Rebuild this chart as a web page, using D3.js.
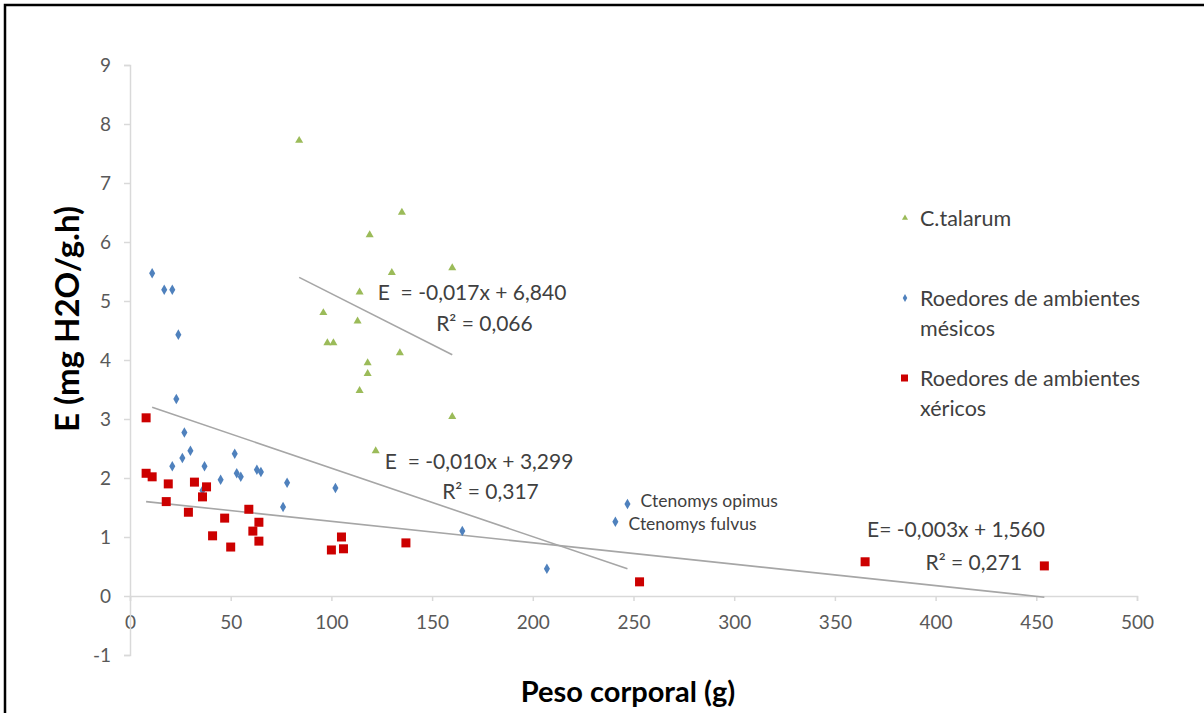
<!DOCTYPE html>
<html><head><meta charset="utf-8">
<script src="https://cdn.jsdelivr.net/npm/d3@7"></script>
<style>body{margin:0;background:#fff}svg{display:block}text{font-family:Lato,"Open Sans",sans-serif;white-space:pre}</style>
</head><body>
<script>
// ---- data ----
const xTicks = [0,50,100,150,200,250,300,350,400,450,500];
const yTicks = [-1,0,1,2,3,4,5,6,7,8,9];
const talarumX = [84,135,119,130,160,114,96,113,98,101,134,118,118,114,160,122];
const talarumY = [7.72,6.5,6.12,5.48,5.56,5.15,4.8,4.66,4.29,4.29,4.12,3.95,3.77,3.48,3.04,2.46];
const mesicosX = [11,17,21,24,23,27,30,26,21,37,52,45,53,55,63,65,78,76,36,102,165,207,247,241];
const mesicosY = [5.47,5.19,5.19,4.43,3.34,2.77,2.46,2.34,2.2,2.2,2.41,1.97,2.08,2.02,2.14,2.1,1.92,1.51,1.79,1.83,1.1,0.46,1.56,1.26];
const xericosX = [8,8,11,19,18,32,29,36,38,41,47,50,59,64,61,64,105,100,106,137,253,365,454];
const xericosY = [3.02,2.08,2.02,1.9,1.6,1.93,1.42,1.68,1.85,1.02,1.32,0.83,1.47,1.25,1.1,0.93,1.0,0.78,0.8,0.9,0.24,0.58,0.51];
const trendTalarum = [[84,5.4],[160,4.09]];
const trendMesicos = [[11,3.2],[247,0.46]];
const trendXericos = [[8,1.6],[454,-0.02]];
const seriesNames = ["C.talarum","Roedores de ambientes|mésicos","Roedores de ambientes|xéricos"];
const eqTexts = [["E  = -0,017x + 6,840","R² = 0,066"],["E  = -0,010x + 3,299","R² = 0,317"],["E= -0,003x + 1,560","R² = 0,271"]];
const eqPos = [[123,5.14,152,4.62],[126.5,2.28,155,1.77],[366,1.12,395,0.56]];
const specLabels = ["Ctenomys opimus","Ctenomys fulvus"];
const specPos = [[253.5,1.61],[247.5,1.23]];
const yTitle = "E (mg H2O/g.h)";
const xTitle = "Peso corporal (g)";

const W=1204,H=713;
const svg=d3.select("body").append("svg").attr("width",W).attr("height",H);
const x=d3.scaleLinear().domain([0,500]).range([130,1137]);
const y=d3.scaleLinear().domain([-1,9]).range([655,65]);

// frame
svg.append("path").attr("d","M5,713V5H1204").attr("fill","none").attr("stroke","#000").attr("stroke-width",2.5);

// axes
const gx=svg.append("g").attr("transform",`translate(0,${y(0)})`)
  .call(d3.axisBottom(x).tickValues(xTicks).tickSize(5).tickPadding(22).tickFormat(d=>String(d)));
const gy=svg.append("g").attr("transform",`translate(${x(0)},0)`)
  .call(d3.axisLeft(y).tickValues(yTicks).tickSize(6).tickPadding(13).tickFormat(d=>String(d)));
[gx,gy].forEach(g=>{
  g.select(".domain").attr("stroke","#d9d9d9").attr("stroke-width",1.5);
  g.selectAll(".tick line").attr("stroke","#d9d9d9").attr("stroke-width",1.5);
  g.selectAll(".tick text").attr("fill","#595959").style("font-size","19px").style("font-family","Lato");
});
gx.selectAll(".tick text").attr("dy","0.32em");

// trend lines
const line=d3.line().x(d=>x(d[0])).y(d=>y(d[1]));
[trendTalarum,trendMesicos,trendXericos].forEach(t=>{
  svg.append("path").attr("d",line(t)).attr("fill","none").attr("stroke","#a6a6a6").attr("stroke-width",1.6);
});

// points
const tri=d3.symbol().type(d3.symbolTriangle).size(28);
const dia=d3.symbol().type(d3.symbolDiamond).size(32);
svg.append("g").selectAll("path").data(d3.range(talarumX.length)).join("path")
  .attr("d",tri).attr("transform",i=>`translate(${x(talarumX[i])},${y(talarumY[i])})`).attr("fill","#9bbb59");
svg.append("g").selectAll("path").data(d3.range(mesicosX.length)).join("path")
  .attr("d",dia).attr("transform",i=>`translate(${x(mesicosX[i])},${y(mesicosY[i])})`).attr("fill","#4f81bd");
svg.append("g").selectAll("rect").data(d3.range(xericosX.length)).join("rect")
  .attr("x",i=>x(xericosX[i])-4.5).attr("y",i=>y(xericosY[i])-4.5).attr("width",9).attr("height",9).attr("fill","#cc0000");

// equations
eqTexts.forEach((t,i)=>{
  const p=eqPos[i];
  svg.append("text").attr("x",x(p[0])).attr("y",y(p[1])).attr("dy","0.35em").attr("fill","#404040").style("font-size","21px").text(t[0]);
  svg.append("text").attr("x",x(p[2])).attr("y",y(p[3])).attr("dy","0.35em").attr("fill","#404040").style("font-size","21px").text(t[1]);
});
specLabels.forEach((t,i)=>{
  svg.append("text").attr("x",x(specPos[i][0])).attr("y",y(specPos[i][1])).attr("dy","0.35em").attr("fill","#404040").style("font-size","17.5px").text(t);
});

// legend
const legY=[218,298,378];
const legColor=["#9bbb59","#4f81bd","#cc0000"];
seriesNames.forEach((n,i)=>{
  const g=svg.append("g");
  if(i===0) g.append("path").attr("d",d3.symbol().type(d3.symbolTriangle).size(16)).attr("transform",`translate(905,${legY[i]})`).attr("fill",legColor[i]);
  else if(i===1) g.append("path").attr("d",d3.symbol().type(d3.symbolDiamond).size(18)).attr("transform",`translate(905,${legY[i]})`).attr("fill",legColor[i]);
  else g.append("rect").attr("x",901).attr("y",legY[i]-3.5).attr("width",7).attr("height",7).attr("fill",legColor[i]);
  const t=g.append("text").attr("x",920).attr("y",legY[i]).attr("fill","#404040").style("font-size","21.5px");
  n.split("|").forEach((s,j)=>t.append("tspan").attr("x",920).attr("dy",j===0?"0.35em":"30px").text(s));
});

// titles
svg.append("text").attr("transform","translate(79,319) rotate(-90)").attr("text-anchor","middle")
  .style("font-size","33px").style("font-weight","bold").attr("fill","#000").text(yTitle);
svg.append("text").attr("x",628).attr("y",702).attr("text-anchor","middle")
  .style("font-size","29px").style("font-weight","bold").attr("fill","#000").text(xTitle);
</script>
</body></html>
